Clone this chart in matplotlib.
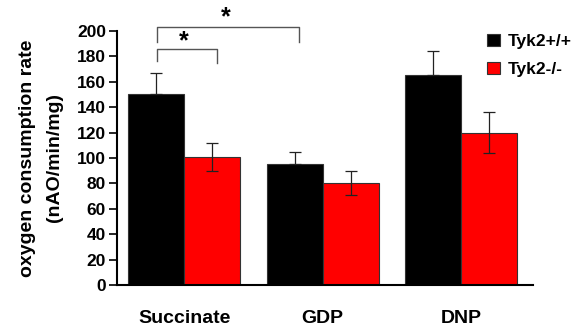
import matplotlib.pyplot as plt
import numpy as np

plt.rcParams['font.family'] = ['Liberation Sans', 'DejaVu Sans']

categories = ['Succinate', 'GDP', 'DNP']
wt_mean = [150, 95, 165]
wt_err = [17, 10, 19.5]
ko_mean = [101, 80, 120]
ko_err = [11, 9.5, 16.5]
yticks = [0, 20, 40, 60, 80, 100, 120, 140, 160, 180, 200]

fig = plt.figure(figsize=(5.86, 3.36), dpi=100)
ax = fig.add_axes([0.2, 0.152, 0.7096, 0.756])

x = np.arange(len(categories))
w = 0.404
ek = dict(elinewidth=0.9, capsize=4, capthick=0.9, ecolor='#222222')
b1 = ax.bar(x - w / 2, wt_mean, w, color='black', edgecolor='#333333', linewidth=0.8,
            label='Tyk2+/+')
ax.errorbar(x - w / 2, wt_mean, yerr=[np.zeros(3), wt_err], fmt='none', **ek)
b2 = ax.bar(x + w / 2, ko_mean, w, color='#ff0000', edgecolor='#333333', linewidth=0.8,
            label='Tyk2-/-')
ax.errorbar(x + w / 2, ko_mean, yerr=ko_err, fmt='none', **ek)

ax.set_xlim(-0.484, 2.52)
ax.set_ylim(0, 200)
ax.set_yticks(yticks)
ax.set_xticks(x)
ax.set_xticklabels(categories, fontsize=14, fontweight='bold')
ax.tick_params(axis='x', length=0, pad=18)
ax.tick_params(axis='y', length=6, width=1.2, labelsize=12.5, pad=2)
for t in ax.get_yticklabels():
    t.set_fontweight('bold')
ax.spines['top'].set_visible(False)
ax.spines['right'].set_visible(False)
ax.spines['left'].set_linewidth(1.5)
ax.spines['bottom'].set_linewidth(1.5)
ax.set_ylabel('oxygen consumption rate\n(nAO/min/mg)', fontsize=14, fontweight='bold',
              labelpad=10, linespacing=1.75)

# significance brackets
bc = '#555555'
ax.plot([-0.2, -0.2, 0.24, 0.24], [176, 186, 186, 175], color=bc, lw=1, clip_on=False)
ax.text(0.0, 182, '*', ha='center', va='bottom', fontsize=18, fontweight='bold')
ax.plot([-0.2, -0.2, 0.83, 0.83], [191, 203, 203, 191], color=bc, lw=1, clip_on=False)
ax.text(0.3, 201, '*', ha='center', va='bottom', fontsize=18, fontweight='bold')

ax.legend(handles=[b1, b2], loc='upper left', bbox_to_anchor=(0.805, 0.945),
          bbox_transform=fig.transFigure, frameon=False, fontsize=12.5,
          handlelength=0.7, handleheight=0.7, handletextpad=0.5, labelspacing=0.75)
for t in ax.get_legend().get_texts():
    t.set_fontweight('bold')

fig.savefig('out.png', dpi=100)
